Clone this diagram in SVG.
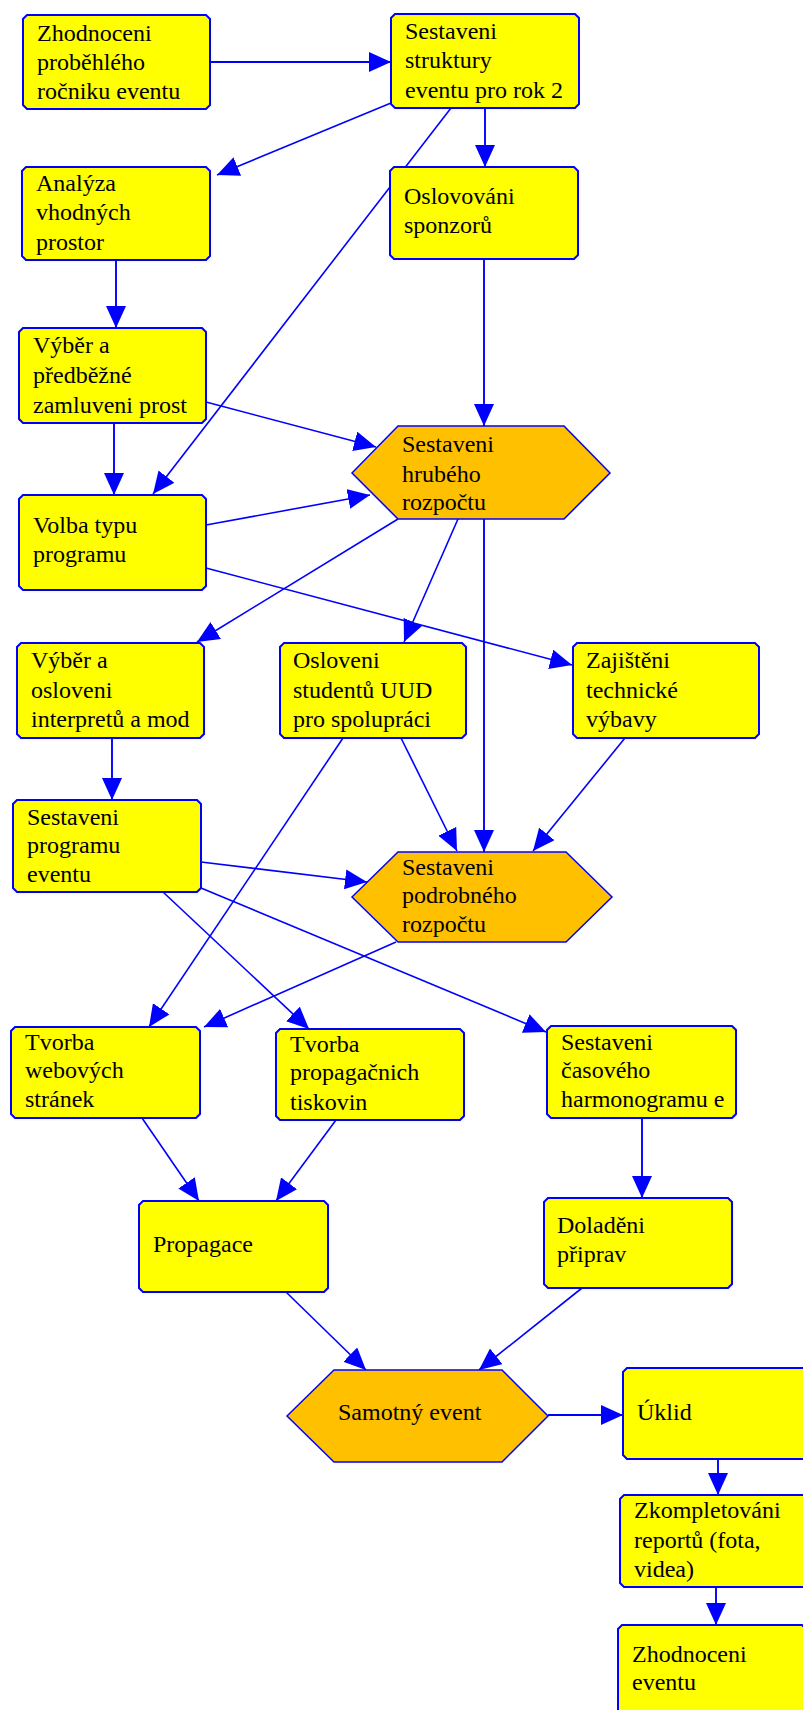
<svg xmlns="http://www.w3.org/2000/svg" width="803" height="1710" viewBox="0 0 803 1710">
<style>
.n path{fill:#ffff00;stroke:#0000ff;stroke-width:2}
.h polygon{fill:#ffc000;stroke:#0000ff;stroke-width:1.5}
text{font-family:"Liberation Serif","Times New Roman",serif;font-size:24px;fill:#000}
#connectors line{stroke:#0000ff;stroke-width:1.6;marker-end:url(#ah)}
#connectors line.o{stroke-width:1.9}
</style>
<defs>
<marker id="ah" markerUnits="userSpaceOnUse" markerWidth="22" markerHeight="20" refX="22" refY="10" orient="auto" viewBox="0 0 22 20">
<path d="M0,0 L22,10 L0,20 Z" fill="#0000ff"/>
</marker>
</defs>
<rect width="803" height="1710" fill="#ffffff"/>
<g id="connectors">
<line class="o" x1="210" y1="62" x2="391" y2="62"/>
<line x1="391" y1="103" x2="217" y2="175"/>
<line class="o" x1="485" y1="108" x2="485" y2="167"/>
<line x1="451" y1="108" x2="153" y2="494"/>
<line class="o" x1="116" y1="260" x2="116" y2="328"/>
<line class="o" x1="484" y1="259" x2="484" y2="426"/>
<line x1="206" y1="402" x2="376" y2="447"/>
<line class="o" x1="114" y1="423" x2="114" y2="495"/>
<line x1="206" y1="525" x2="370" y2="495"/>
<line x1="206" y1="568" x2="572" y2="665"/>
<line x1="398" y1="519" x2="197" y2="642"/>
<line x1="458" y1="519" x2="404" y2="642"/>
<line class="o" x1="484" y1="519" x2="484" y2="852"/>
<line class="o" x1="112" y1="738" x2="112" y2="800"/>
<line x1="343" y1="738" x2="149" y2="1027"/>
<line x1="401" y1="738" x2="457" y2="851"/>
<line x1="625" y1="738" x2="533" y2="851"/>
<line x1="201" y1="862" x2="367" y2="882"/>
<line x1="163" y1="892" x2="309" y2="1029"/>
<line x1="201" y1="888" x2="546" y2="1032"/>
<line x1="396" y1="942" x2="204" y2="1027"/>
<line x1="142" y1="1118" x2="199" y2="1201"/>
<line x1="336" y1="1120" x2="276" y2="1201"/>
<line class="o" x1="642" y1="1118" x2="642" y2="1198"/>
<line x1="286" y1="1292" x2="366" y2="1370"/>
<line x1="582" y1="1288" x2="479" y2="1370"/>
<line class="o" x1="548" y1="1415" x2="623" y2="1415"/>
<line class="o" x1="718" y1="1459" x2="718" y2="1495"/>
<line class="o" x1="716" y1="1587" x2="716" y2="1625"/>
</g>
<g id="n1" class="n"><path d="M27,15 H206 L210,19 V105 L206,109 H27 L23,105 V19 Z"/>
<text x="37" y="41">Zhodnoceni</text><text x="37" y="70">proběhlého</text><text x="37" y="99">ročniku eventu</text></g>
<g id="n2" class="n"><path d="M395,14 H575 L579,18 V104 L575,108 H395 L391,104 V18 Z"/>
<text x="405" y="39">Sestaveni</text><text x="405" y="68">struktury</text><text x="405" y="98">eventu pro rok 2</text></g>
<g id="n3" class="n"><path d="M26,167 H206 L210,171 V256 L206,260 H26 L22,256 V171 Z"/>
<text x="36" y="191">Analýza</text><text x="36" y="220">vhodných</text><text x="36" y="250">prostor</text></g>
<g id="n4" class="n"><path d="M394,167 H574 L578,171 V255 L574,259 H394 L390,255 V171 Z"/>
<text x="404" y="204">Oslovováni</text><text x="404" y="233">sponzorů</text></g>
<g id="n5" class="n"><path d="M23,328 H202 L206,332 V419 L202,423 H23 L19,419 V332 Z"/>
<text x="33" y="353">Výběr a</text><text x="33" y="383">předběžné</text><text x="33" y="413">zamluveni prost</text></g>
<g id="n6" class="n"><path d="M23,495 H202 L206,499 V586 L202,590 H23 L19,586 V499 Z"/>
<text x="33" y="533">Volba typu</text><text x="33" y="562">programu</text></g>
<g id="n7" class="h"><polygon points="352,473 398,426 564,426 610,473 564,519 398,519"/>
<text x="402" y="452">Sestaveni</text><text x="402" y="482">hrubého</text><text x="402" y="510">rozpočtu</text></g>
<g id="n8" class="n"><path d="M21,643 H200 L204,647 V734 L200,738 H21 L17,734 V647 Z"/>
<text x="31" y="668">Výběr a</text><text x="31" y="698">osloveni</text><text x="31" y="727">interpretů a mod</text></g>
<g id="n9" class="n"><path d="M284,643 H462 L466,647 V734 L462,738 H284 L280,734 V647 Z"/>
<text x="293" y="668">Osloveni</text><text x="293" y="698">studentů UUD</text><text x="293" y="727">pro spolupráci</text></g>
<g id="n10" class="n"><path d="M577,643 H755 L759,647 V734 L755,738 H577 L573,734 V647 Z"/>
<text x="586" y="668">Zajištěni</text><text x="586" y="698">technické</text><text x="586" y="727">výbavy</text></g>
<g id="n11" class="n"><path d="M17,800 H197 L201,804 V888 L197,892 H17 L13,888 V804 Z"/>
<text x="27" y="825">Sestaveni</text><text x="27" y="853">programu</text><text x="27" y="882">eventu</text></g>
<g id="n12" class="h"><polygon points="352,897 398,852 566,852 612,897 566,942 398,942"/>
<text x="402" y="875">Sestaveni</text><text x="402" y="903">podrobného</text><text x="402" y="932">rozpočtu</text></g>
<g id="n13" class="n"><path d="M15,1027 H196 L200,1031 V1114 L196,1118 H15 L11,1114 V1031 Z"/>
<text x="25" y="1050">Tvorba</text><text x="25" y="1078">webových</text><text x="25" y="1107">stránek</text></g>
<g id="n14" class="n"><path d="M280,1029 H460 L464,1033 V1116 L460,1120 H280 L276,1116 V1033 Z"/>
<text x="290" y="1052">Tvorba</text><text x="290" y="1080">propagačnich</text><text x="290" y="1110">tiskovin</text></g>
<g id="n15" class="n"><path d="M551,1026 H732 L736,1030 V1114 L732,1118 H551 L547,1114 V1030 Z"/>
<text x="561" y="1050">Sestaveni</text><text x="561" y="1078">časového</text><text x="561" y="1107">harmonogramu e</text></g>
<g id="n16" class="n"><path d="M143,1201 H324 L328,1205 V1288 L324,1292 H143 L139,1288 V1205 Z"/>
<text x="153" y="1252">Propagace</text></g>
<g id="n17" class="n"><path d="M548,1198 H728 L732,1202 V1284 L728,1288 H548 L544,1284 V1202 Z"/>
<text x="557" y="1233">Doladěni</text><text x="557" y="1262">připrav</text></g>
<g id="n18" class="h"><polygon points="287,1416 334,1370 502,1370 548,1416 502,1462 334,1462"/>
<text x="338" y="1420">Samotný event</text></g>
<g id="n19" class="n"><path d="M627,1368 H809 L813,1372 V1455 L809,1459 H627 L623,1455 V1372 Z"/>
<text x="637" y="1420">Úklid</text></g>
<g id="n20" class="n"><path d="M624,1495 H806 L810,1499 V1583 L806,1587 H624 L620,1583 V1499 Z"/>
<text x="634" y="1518">Zkompletováni</text><text x="634" y="1548">reportů (fota,</text><text x="634" y="1577">videa)</text></g>
<g id="n21" class="n"><path d="M622,1625 H802 L806,1629 V1720 H618 V1629 Z"/>
<text x="632" y="1662">Zhodnoceni</text><text x="632" y="1690">eventu</text></g>
</svg>
